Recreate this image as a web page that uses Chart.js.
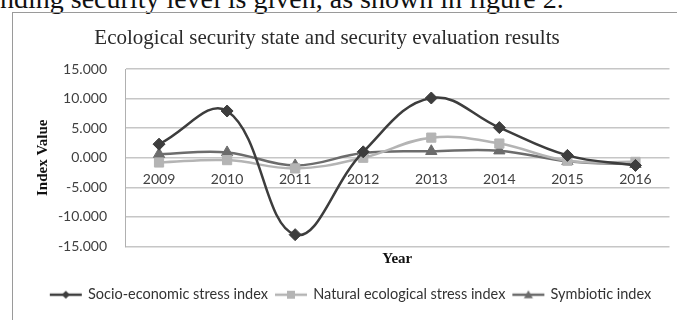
<!DOCTYPE html>
<html>
<head>
<meta charset="utf-8">
<script src="https://cdn.jsdelivr.net/npm/chart.js@4/dist/chart.umd.min.js"></script>
<style>
  html, body { margin: 0; padding: 0; background: #fff; }
  #page { position: relative; width: 677px; height: 320px; overflow: hidden; background: #fff; }
  #lead { position: absolute; left: 0; top: -17px; font: 28px "Liberation Serif", "Times New Roman", serif; color: #111; white-space: nowrap; }
  #frame { position: absolute; left: 12px; top: 12px; width: 700px; height: 340px; border-left: 1px solid #9a9a9a; border-top: 1px solid #9a9a9a; }
  #box { position: absolute; left: 0; top: 0; width: 677px; height: 320px; }
  #heading { position: absolute; left: 0; width: 654px; top: 25px; text-align: center; font: 21px "Liberation Serif", "Times New Roman", serif; color: #2a2a2a; white-space: nowrap; }
</style>
</head>
<body>
<div id="page">
  <div id="lead">nding security level is given, as shown in figure 2.</div>
  <div id="frame"></div>
  <div id="box"><canvas id="chart"></canvas></div>
  <div id="heading">Ecological security state and security evaluation results</div>
</div>
<script>
// Years on the horizontal axis
const years = ['2009', '2010', '2011', '2012', '2013', '2014', '2015', '2016'];
// Index values per year
const socioEconomic = [2.3, 7.9, -13.0, 1.0, 10.1, 5.1, 0.4, -1.3];
const naturalEcological = [-0.8, -0.4, -1.8, 0.0, 3.4, 2.4, -0.5, -0.7];
const symbiotic = [0.6, 0.9, -1.3, 0.8, 1.1, 1.2, -0.6, -1.1];
// Vertical axis range and step
const yMin = -15, yMax = 15, yStep = 5;

const seriesNames = ['Socio-economic stress index', 'Natural ecological stress index', 'Symbiotic index'];
const seriesColors = ['#3d3d3d', '#b4b4b4', '#6c6c6c'];
const seriesMarkers = ['rectRot', 'rect', 'triangle'];

// Legend icon: a short line with the series marker in the middle
function legendIcon(color, marker) {
  const c = document.createElement('canvas');
  c.width = 44; c.height = 14;
  const g = c.getContext('2d');
  g.strokeStyle = color; g.fillStyle = color; g.lineWidth = 2.5;
  g.beginPath(); g.moveTo(6, 7); g.lineTo(38, 7); g.stroke();
  g.beginPath();
  if (marker === 'rectRot') {
    g.moveTo(22, 3); g.lineTo(26, 7); g.lineTo(22, 11); g.lineTo(18, 7);
  } else if (marker === 'rect') {
    g.rect(18, 3, 8, 8);
  } else {
    g.moveTo(22, 2.5); g.lineTo(26.5, 10.5); g.lineTo(17.5, 10.5);
  }
  g.closePath(); g.fill();
  return c;
}
const legendIcons = seriesColors.map((c, i) => legendIcon(c, seriesMarkers[i]));

const values = [socioEconomic, naturalEcological, symbiotic];
const markerRadius = [6, 6.5, 6.5];

new Chart(document.getElementById('chart'), {
  type: 'line',
  data: {
    labels: years,
    datasets: values.map((v, i) => ({
      label: seriesNames[i],
      data: v,
      borderColor: seriesColors[i],
      backgroundColor: seriesColors[i],
      borderWidth: 2.5,
      pointStyle: seriesMarkers[i],
      pointRadius: markerRadius[i],
      pointBorderWidth: 1,
      tension: 0.4,
      fill: false,
      xAxisID: 'x'
    }))
  },
  options: {
    responsive: true,
    maintainAspectRatio: false,
    animation: false,
    layout: { padding: { left: 30, right: 5, top: 69, bottom: 8 } },
    plugins: {
      tooltip: { enabled: false },
      legend: {
        position: 'bottom',
        labels: {
          usePointStyle: true,
          pointStyleWidth: 30,
          boxHeight: 14,
          padding: 8,
          color: '#333',
          font: { family: 'Lato', size: 14.5 },
          generateLabels(chart) {
            const items = Chart.defaults.plugins.legend.labels.generateLabels(chart);
            items.forEach((it, i) => { it.pointStyle = legendIcons[i]; });
            return items;
          }
        }
      }
    },
    scales: {
      x: {
        type: 'category',
        offset: true,
        grid: { display: false, drawTicks: false },
        border: { display: false },
        ticks: { display: false },
        title: {
          display: true, text: 'Year', color: '#111',
          font: { family: 'Liberation Serif', size: 15, weight: 'bold' },
          padding: { top: 4, bottom: 11 }
        }
      },
      xLabels: {
        type: 'category',
        labels: years,
        offset: true,
        position: { y: 0 },
        grid: { display: false, drawTicks: false },
        border: { display: false },
        ticks: { padding: 13, color: '#404040', font: { family: 'Lato', size: 14 }, maxRotation: 0 }
      },
      y: {
        min: yMin, max: yMax,
        afterFit(scale) { scale.width = 95; },
        ticks: {
          stepSize: yStep, padding: 18, color: '#404040',
          font: { family: 'Lato', size: 14 },
          callback: (v) => Number(v).toFixed(3)
        },
        grid: { color: '#c6c6c6', lineWidth: 1.5, drawTicks: false },
        border: { display: true, color: '#b0b0b0', width: 1 },
        title: {
          display: true, text: 'Index Value', color: '#111',
          font: { family: 'Liberation Serif', size: 15, weight: 'bold' },
          padding: { top: 4, bottom: 4 }
        }
      }
    }
  }
});
</script>
</body>
</html>
